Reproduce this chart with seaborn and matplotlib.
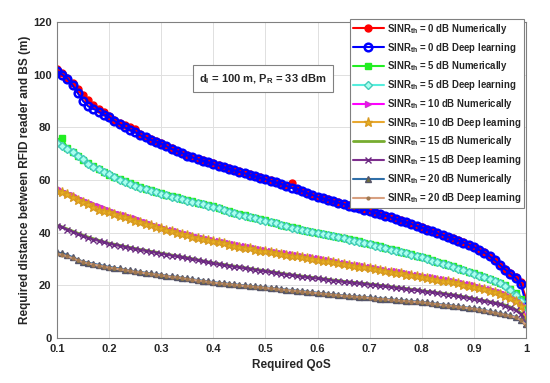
import numpy as np
import matplotlib
matplotlib.use('Agg')
import matplotlib.pyplot as plt
import seaborn as sns

# required QoS, step 0.01
qos = np.round(np.arange(0.10, 1.001, 0.01), 2)

# SINR_th = 0 dB
d0_num = [102.0, 100.5, 98.8, 96.8, 94.5, 92.3, 90.2, 88.3, 86.8, 85.8,
          84.2, 82.8, 81.6, 80.8, 80.2, 79.4, 77.6, 76.5, 75.6, 74.8,
          74.0, 73.0, 72.0, 71.2, 70.3, 69.5, 68.8, 68.1, 67.5, 66.9,
          66.3, 65.7, 65.1, 64.5, 63.9, 63.3, 62.7, 62.1, 61.6, 61.0,
          60.5, 59.9, 59.3, 58.6, 57.9, 58.7, 56.6, 55.9, 55.1, 54.4,
          53.7, 53.1, 52.6, 52.0, 51.5, 51.0, 50.4, 49.9, 49.3, 48.8,
          48.3, 47.7, 47.1, 46.5, 45.9, 45.3, 44.7, 44.1, 43.4, 42.7,
          42.0, 41.3, 40.6, 39.9, 39.2, 38.5, 37.8, 37.1, 36.3, 35.5,
          34.7, 33.6, 32.5, 31.2, 29.6, 27.8, 26.2, 24.6, 23.0, 21.2,
          15.0]
d0_dl = [101.5, 100.0, 98.5, 96.0, 93.0, 90.0, 88.0, 87.0, 86.0, 84.8,
         84.0, 82.5, 81.2, 80.0, 79.0, 78.2, 77.0, 76.2, 75.3, 74.6,
         73.8, 72.8, 71.8, 71.0, 70.2, 69.3, 68.6, 67.9, 67.3, 66.7,
         66.0, 65.5, 64.9, 64.3, 63.7, 63.1, 62.5, 61.9, 61.4, 60.8,
         60.3, 59.7, 59.1, 58.5, 57.8, 57.0, 56.6, 55.8, 55.0, 54.3,
         53.6, 53.0, 52.5, 51.9, 51.4, 50.9, 50.3, 49.8, 49.2, 48.7,
         48.2, 47.6, 47.0, 46.4, 45.8, 45.2, 44.6, 44.0, 43.3, 42.6,
         41.9, 41.2, 40.5, 39.8, 39.1, 38.4, 37.7, 37.0, 36.2, 35.4,
         34.6, 33.5, 32.4, 31.1, 29.5, 27.7, 26.0, 24.4, 22.8, 20.5,
         13.0]

# SINR_th = 5 dB
d5_num = [75.0, 76.0, 72.0, 70.8, 69.2, 67.6, 66.5, 65.3, 64.2, 63.0,
          62.0, 61.2, 60.3, 59.5, 58.8, 58.0, 57.3, 56.7, 56.1, 55.5,
          55.0, 54.4, 53.9, 53.4, 52.9, 52.4, 51.9, 51.4, 50.9, 50.4,
          50.0, 49.4, 48.8, 48.2, 47.6, 47.0, 46.6, 46.1, 45.7, 45.2,
          44.8, 44.2, 43.7, 43.1, 42.6, 42.0, 41.6, 41.2, 40.8, 40.4,
          40.0, 39.6, 39.2, 38.8, 38.4, 38.0, 37.6, 37.1, 36.7, 36.2,
          35.8, 35.3, 34.8, 34.3, 33.8, 33.3, 32.8, 32.3, 31.8, 31.3,
          30.8, 30.2, 29.6, 29.0, 28.4, 27.8, 27.2, 26.5, 25.9, 25.2,
          24.6, 23.9, 23.2, 22.5, 21.8, 21.0, 20.0, 18.6, 17.0, 15.0,
          11.0]
d5_dl = [74.0, 73.0, 71.8, 70.5, 69.0, 67.8, 66.2, 65.0, 64.0, 63.2,
         62.2, 61.0, 60.0, 59.3, 58.5, 57.8, 57.0, 56.5, 56.0, 55.3,
         54.8, 54.3, 53.7, 53.2, 52.7, 52.2, 51.7, 51.2, 50.7, 50.2,
         49.7, 49.2, 48.6, 48.0, 47.4, 46.9, 46.4, 46.0, 45.5, 45.0,
         44.6, 44.0, 43.5, 43.0, 42.4, 41.9, 41.4, 41.0, 40.6, 40.2,
         39.8, 39.4, 39.0, 38.6, 38.2, 37.8, 37.4, 36.9, 36.5, 36.0,
         35.6, 35.1, 34.6, 34.1, 33.6, 33.1, 32.6, 32.1, 31.6, 31.1,
         30.6, 30.0, 29.4, 28.8, 28.2, 27.6, 27.0, 26.3, 25.7, 25.0,
         24.4, 23.7, 23.0, 22.3, 21.6, 20.8, 19.6, 18.2, 16.5, 14.0,
         9.5]

# SINR_th = 10 dB
d10_num = [57.0, 56.0, 55.2, 54.3, 53.3, 52.4, 51.6, 50.8, 50.0, 49.3,
           48.6, 47.9, 47.2, 46.6, 46.0, 45.4, 44.7, 44.0, 43.3, 42.6,
           42.0, 41.5, 41.0, 40.5, 40.0, 39.5, 39.0, 38.5, 38.1, 37.6,
           37.2, 36.8, 36.4, 36.0, 35.6, 35.2, 34.8, 34.5, 34.1, 33.7,
           33.4, 33.1, 32.7, 32.4, 32.1, 31.8, 31.5, 31.2, 30.9, 30.6,
           30.3, 29.9, 29.6, 29.2, 28.9, 28.5, 28.2, 27.9, 27.6, 27.3,
           27.0, 26.7, 26.3, 26.0, 25.6, 25.3, 25.0, 24.6, 24.3, 23.9,
           23.6, 23.3, 23.0, 22.6, 22.3, 22.0, 21.6, 21.2, 20.8, 20.4,
           20.0, 19.5, 19.0, 18.5, 17.9, 17.3, 16.6, 15.7, 14.5, 13.0,
           8.0]
d10_dl = [56.0, 55.5, 54.5, 53.5, 52.5, 51.8, 50.8, 49.8, 48.8, 48.2,
          47.8, 47.0, 46.4, 45.8, 45.2, 44.6, 44.0, 43.4, 42.8, 42.2,
          41.6, 41.0, 40.5, 40.0, 39.5, 39.0, 38.5, 38.0, 37.6, 37.1,
          36.7, 36.3, 35.9, 35.5, 35.1, 34.7, 34.3, 34.0, 33.6, 33.2,
          32.9, 32.6, 32.2, 31.9, 31.6, 31.3, 31.0, 30.7, 30.4, 30.1,
          29.8, 29.4, 29.1, 28.7, 28.4, 28.0, 27.7, 27.4, 27.1, 26.8,
          26.5, 26.2, 25.8, 25.5, 25.1, 24.8, 24.5, 24.1, 23.8, 23.4,
          23.1, 22.8, 22.5, 22.1, 21.8, 21.5, 21.1, 20.7, 20.3, 19.9,
          19.5, 19.0, 18.5, 18.0, 17.4, 16.8, 16.1, 15.2, 14.0, 12.0,
          7.0]

# SINR_th = 15 dB
d15_num = [42.8, 42.2, 41.4, 40.6, 39.8, 39.0, 38.3, 37.7, 37.1, 36.5,
           36.0, 35.6, 35.2, 34.8, 34.4, 34.0, 33.6, 33.3, 32.9, 32.6,
           32.2, 31.9, 31.5, 31.2, 30.8, 30.5, 30.1, 29.7, 29.3, 28.9,
           28.5, 28.2, 27.9, 27.6, 27.3, 27.0, 26.7, 26.4, 26.1, 25.8,
           25.5, 25.2, 24.9, 24.6, 24.3, 24.0, 23.8, 23.5, 23.3, 23.0,
           22.8, 22.5, 22.3, 22.0, 21.8, 21.5, 21.3, 21.1, 20.9, 20.7,
           20.5, 20.3, 20.0, 19.8, 19.5, 19.3, 19.0, 18.8, 18.5, 18.3,
           18.0, 17.7, 17.5, 17.2, 17.0, 16.7, 16.4, 16.1, 15.7, 15.4,
           15.0, 14.6, 14.2, 13.8, 13.4, 13.0, 12.5, 11.8, 10.8, 9.5,
           6.0]
d15_dl = [42.5, 42.0, 41.2, 40.3, 39.5, 38.8, 38.0, 37.4, 36.9, 36.3,
          35.8, 35.4, 35.0, 34.6, 34.2, 33.8, 33.4, 33.1, 32.7, 32.4,
          32.0, 31.7, 31.3, 31.0, 30.6, 30.3, 29.9, 29.5, 29.1, 28.7,
          28.3, 28.0, 27.7, 27.4, 27.1, 26.8, 26.5, 26.2, 25.9, 25.6,
          25.3, 25.0, 24.7, 24.4, 24.1, 23.8, 23.6, 23.3, 23.1, 22.8,
          22.6, 22.3, 22.1, 21.8, 21.6, 21.3, 21.1, 20.9, 20.7, 20.5,
          20.3, 20.1, 19.8, 19.6, 19.3, 19.1, 18.8, 18.6, 18.3, 18.1,
          17.8, 17.5, 17.3, 17.0, 16.8, 16.5, 16.2, 15.9, 15.5, 15.2,
          14.8, 14.4, 14.0, 13.6, 13.2, 12.8, 12.2, 11.5, 10.5, 9.0,
          5.5]

# SINR_th = 20 dB
d20_num = [32.5, 32.2, 31.5, 30.7, 29.8, 29.0, 28.6, 28.2, 27.8, 27.4,
           27.0, 26.7, 26.4, 26.0, 25.7, 25.3, 25.1, 24.8, 24.5, 24.3,
           24.0, 23.7, 23.4, 23.2, 22.9, 22.6, 22.3, 22.0, 21.8, 21.5,
           21.2, 21.0, 20.8, 20.6, 20.4, 20.2, 20.0, 19.8, 19.6, 19.4,
           19.2, 19.0, 18.8, 18.6, 18.4, 18.2, 18.0, 17.8, 17.6, 17.4,
           17.2, 17.0, 16.8, 16.6, 16.4, 16.2, 16.0, 15.9, 15.7, 15.6,
           15.4, 15.2, 15.0, 14.9, 14.7, 14.5, 14.3, 14.2, 14.0, 13.9,
           13.7, 13.5, 13.2, 13.0, 12.7, 12.5, 12.3, 12.0, 11.8, 11.5,
           11.3, 11.0, 10.6, 10.2, 9.8, 9.4, 9.0, 8.6, 8.0, 7.0,
           5.5]
d20_dl = [32.0, 31.6, 31.0, 30.3, 29.5, 28.8, 28.3, 27.9, 27.5, 27.1,
          26.7, 26.4, 26.1, 25.8, 25.5, 25.1, 24.9, 24.6, 24.3, 24.1,
          23.8, 23.5, 23.2, 23.0, 22.7, 22.4, 22.1, 21.8, 21.6, 21.3,
          21.0, 20.8, 20.6, 20.4, 20.2, 20.0, 19.8, 19.6, 19.4, 19.2,
          19.0, 18.8, 18.6, 18.4, 18.2, 18.0, 17.8, 17.6, 17.4, 17.2,
          17.0, 16.8, 16.6, 16.4, 16.2, 16.0, 15.8, 15.7, 15.5, 15.4,
          15.2, 15.0, 14.8, 14.7, 14.5, 14.3, 14.1, 14.0, 13.8, 13.7,
          13.5, 13.3, 13.0, 12.8, 12.5, 12.3, 12.1, 11.8, 11.6, 11.3,
          11.1, 10.8, 10.4, 10.0, 9.6, 9.2, 8.8, 8.4, 7.8, 6.8,
          5.0]

labels = [r'SINR$_\mathrm{th}$ = 0 dB Numerically', r'SINR$_\mathrm{th}$ = 0 dB Deep learning',
          r'SINR$_\mathrm{th}$ = 5 dB Numerically', r'SINR$_\mathrm{th}$ = 5 dB Deep learning',
          r'SINR$_\mathrm{th}$ = 10 dB Numerically', r'SINR$_\mathrm{th}$ = 10 dB Deep learning',
          r'SINR$_\mathrm{th}$ = 15 dB Numerically', r'SINR$_\mathrm{th}$ = 15 dB Deep learning',
          r'SINR$_\mathrm{th}$ = 20 dB Numerically', r'SINR$_\mathrm{th}$ = 20 dB Deep learning']

sns.set_style('whitegrid')
plt.rcParams['font.family'] = ['Liberation Sans', 'DejaVu Sans']
plt.rcParams['font.weight'] = 'bold'
plt.rcParams['mathtext.fontset'] = 'custom'
plt.rcParams['mathtext.rm'] = 'Liberation Sans:bold'
plt.rcParams['mathtext.it'] = 'Liberation Sans:bold'
plt.rcParams['mathtext.bf'] = 'Liberation Sans:bold'

fig = plt.figure(figsize=(5.5, 3.83), dpi=100)
ax = fig.add_axes([0.1036, 0.1175, 0.8528, 0.825])

# (data, style) pairs in legend order
series = [
    (d0_num, dict(color='#ff0000', marker='o', markersize=5, mfc='#ff0000', mec='#ff0000')),
    (d0_dl, dict(color='#0000ff', marker='o', markersize=5.5, mfc='none', mec='#0000ff', mew=1.8)),
    (d5_num, dict(color='#22ee22', marker='s', markersize=4, mfc='#22ee22', mec='#22ee22')),
    (d5_dl, dict(color='#55eedd', marker='D', markersize=4, mfc='#aaffee', mec='#44ccbb')),
    (d10_num, dict(color='#ff00ff', marker='>', markersize=4.5, mfc='#ff00ff', mec='#cc33cc')),
    (d10_dl, dict(color='#e8a830', marker='*', markersize=6.5, mfc='#e8b020', mec='#d89a20')),
    (d15_num, dict(color='#77ac30', marker='', linewidth=2)),
    (d15_dl, dict(color='#7e2f8e', marker='x', markersize=4, mec='#6a2a80')),
    (d20_num, dict(color='#2f6fa8', marker='^', markersize=5, mfc='#707035', mec='#55556a')),
    (d20_dl, dict(color='#d8a080', marker='.', markersize=4, mfc='#a07850', mec='#a07850')),
]
for (vals, style), lab in zip(series, labels):
    style.setdefault('linewidth', 1.5)
    style.setdefault('mew', 1.0)
    sns.lineplot(x=qos, y=vals, ax=ax, label=lab, **style)

ax.set_xlim(0.1, 1.0)
ax.set_ylim(0, 120)
ax.set_xticks(np.round(np.arange(0.1, 1.01, 0.1), 1))
ax.set_xticklabels(['0.1', '0.2', '0.3', '0.4', '0.5', '0.6', '0.7', '0.8', '0.9', '1'])
ax.set_yticks(range(0, 121, 20))
ax.tick_params(labelsize=8, direction='in', length=3, color='#808080', pad=4)
ax.grid(True, color='#e0e0e0', lw=0.7)
for sp in ax.spines.values():
    sp.set_color('#808080')
    sp.set_linewidth(0.8)

ax.set_xlabel('Required QoS', fontsize=8.5, fontweight='bold', labelpad=4)
ax.set_ylabel('Required distance between RFID reader and BS (m)', fontsize=8.5, fontweight='bold', labelpad=1)

ax.text(0.439, 0.82, r'd$_\mathrm{I}$ = 100 m, P$_\mathrm{R}$ = 33 dBm', transform=ax.transAxes,
        ha='center', va='center', fontsize=8, fontweight='bold',
        bbox=dict(boxstyle='square,pad=0.6', fc='white', ec='#808080', lw=0.8))

leg = ax.legend(loc='upper left', bbox_to_anchor=(0.625, 1.01), fontsize=6.9, frameon=True,
                fancybox=False, edgecolor='#808080', framealpha=1, borderpad=0.3,
                labelspacing=0.5, handlelength=3.2, handletextpad=0.3, borderaxespad=0)
leg.get_frame().set_linewidth(0.8)

fig.savefig('out.png', dpi=100)
